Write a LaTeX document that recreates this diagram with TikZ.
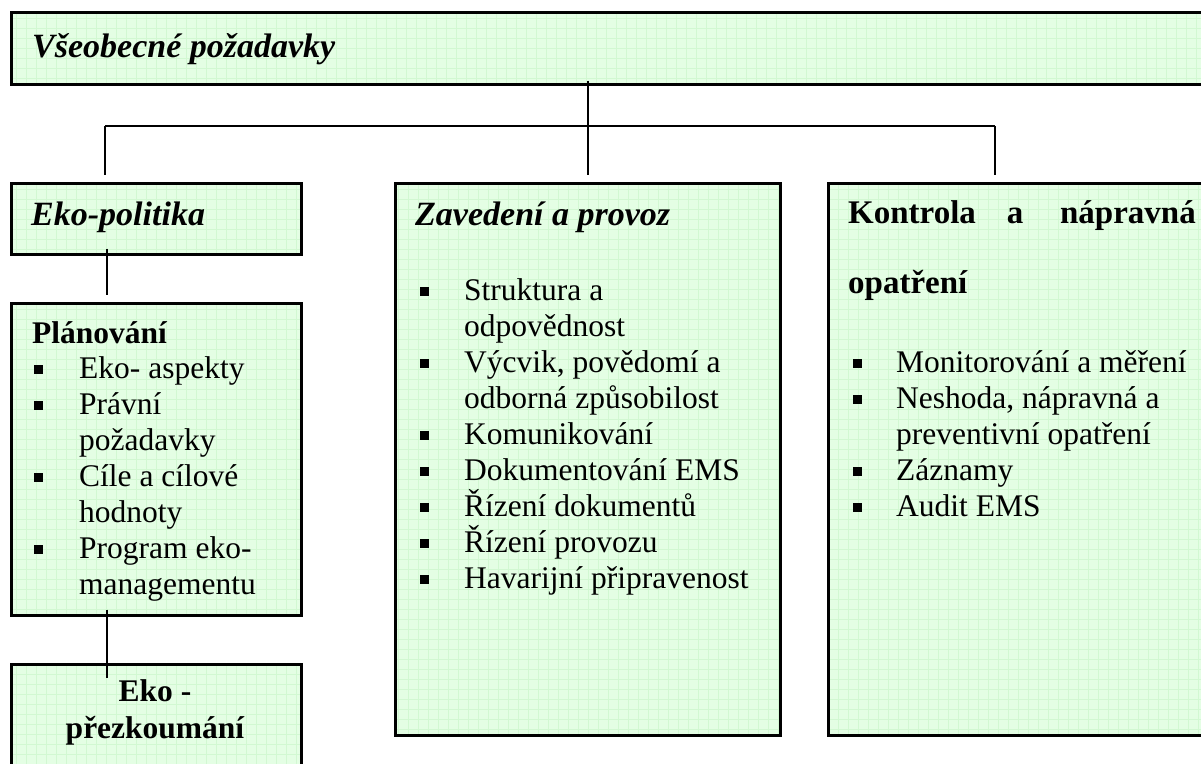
\documentclass[tikz,border=0pt]{standalone}
\usepackage{fontspec}
\setmainfont{Liberation Serif}
\usetikzlibrary{calc}
\definecolor{boxfill}{RGB}{228,254,228}
\definecolor{gridline}{RGB}{210,248,210}
\tikzset{
  box/.style={draw=black, line width=2.5pt, fill=boxfill, anchor=north west, inner sep=0pt,
    path picture={\draw[gridline, line width=0.5pt, step=10pt]
      (path picture bounding box.south west) grid (path picture bounding box.north east);}},
  conn/.style={line width=2.2pt, black},
  body/.style={font=\fontsize{31.5}{36}\selectfont, anchor=base west, inner sep=0pt},
  bodyb/.style={font=\fontsize{31.5}{36}\selectfont\bfseries, anchor=base west, inner sep=0pt},
  head/.style={font=\fontsize{34}{40}\selectfont\bfseries\itshape, anchor=base west, inner sep=0pt},
  headb/.style={font=\fontsize{33}{40}\selectfont\bfseries, anchor=base west, inner sep=0pt},
  bul/.style={fill=black, minimum size=9pt, inner sep=0pt},
}
\begin{document}
\begin{tikzpicture}[x=1pt,y=-1pt]
\useasboundingbox (0,0) rectangle (1201,763);
\fill[white] (0,0) rectangle (1201,763);

% boxes
\node[box, minimum width=1210pt, minimum height=72pt] (top) at (10,11) {};
\node[box, minimum width=290pt, minimum height=71pt] (ekopol) at (10,182) {};
\node[box, minimum width=290pt, minimum height=312pt] (plan) at (10,302) {};
\node[box, minimum width=290pt, minimum height=140pt] (prez) at (10,663) {};
\node[box, minimum width=385pt, minimum height=552pt] (mid) at (394,182) {};
\node[box, minimum width=400pt, minimum height=552pt] (right) at (827,182) {};

% connectors
\coordinate (jl) at (105,126);
\coordinate (jr) at (995,126);
\draw[conn] ($(top.south -| mid.north)+(0,-5)$) -- ($(mid.north)+(0,-7)$);
\draw[conn] (jl) -- (jr);
\draw[conn] (jl) -- ($(jl |- ekopol.north)+(0,-7)$);
\draw[conn] (jr) -- ($(jr |- right.north)+(0,-7)$);
\draw[conn] ($(ekopol.south west)+(97,-7)$) -- ($(plan.north west)+(97,-7)$);
\draw[conn] ($(plan.south west)+(97,-7)$) -- ($(prez.north west)+(97,15)$);

% headings
\node[head] (ttop) at (32,57) {Všeobecné požadavky};
\node[head] (tekopol) at (31,225) {Eko-politika};
\node[head] (tmid) at (415,225) {Zavedení a provoz};
\node[headb] (tk1) at (848,223) {Kontrola};
\node[headb, anchor=base] (tk2) at (1015,223) {a};
\node[headb, anchor=base east] (tk3) at (1196,223) {nápravná};
\node[headb] (tk4) at (848,293) {opatření};

% Planovani
\node[bodyb] (tplan) at (32,343) {Plánování};
\node[body] (p1) at (79,378) {Eko- aspekty};
\node[body] (p2) at (79,414) {Právní};
\node[body] (p3) at (79,450) {požadavky};
\node[body] (p4) at (79,486) {Cíle a cílové};
\node[body] (p5) at (79,522) {hodnoty};
\node[body] (p6) at (79,558) {Program eko-};
\node[body] (p7) at (79,594) {managementu};
\node[bul] (pb1) at (38,369) {};
\node[bul] (pb2) at (38,405) {};
\node[bul] (pb4) at (38,477) {};
\node[bul] (pb6) at (38,549) {};

% Eko-prezkoumani
\node[bodyb, anchor=base] (tp1) at (155,701) {Eko -};
\node[bodyb, anchor=base] (tp2) at (155,738) {přezkoumání};

% middle
\node[body] (m1) at (464,300) {Struktura a};
\node[body] (m2) at (464,336) {odpovědnost};
\node[body] (m3) at (464,372) {Výcvik, povědomí a};
\node[body] (m4) at (464,408) {odborná způsobilost};
\node[body] (m5) at (464,444) {Komunikování};
\node[body] (m6) at (464,480) {Dokumentování EMS};
\node[body] (m7) at (464,516) {Řízení dokumentů};
\node[body] (m8) at (464,552) {Řízení provozu};
\node[body] (m9) at (464,588) {Havarijní připravenost};
\node[bul] (mb1) at (424,291) {};
\node[bul] (mb3) at (424,363) {};
\node[bul] (mb5) at (424,435) {};
\node[bul] (mb6) at (424,471) {};
\node[bul] (mb7) at (424,507) {};
\node[bul] (mb8) at (424,543) {};
\node[bul] (mb9) at (424,579) {};

% right
\node[body] (r1) at (896,372) {Monitorování a měření};
\node[body] (r2) at (896,408) {Neshoda, nápravná a};
\node[body] (r3) at (896,444) {preventivní opatření};
\node[body] (r4) at (896,480) {Záznamy};
\node[body] (r5) at (896,516) {Audit EMS};
\node[bul] (rb1) at (857,363) {};
\node[bul] (rb2) at (857,399) {};
\node[bul] (rb4) at (857,471) {};
\node[bul] (rb5) at (857,507) {};
\end{tikzpicture}
\end{document}
